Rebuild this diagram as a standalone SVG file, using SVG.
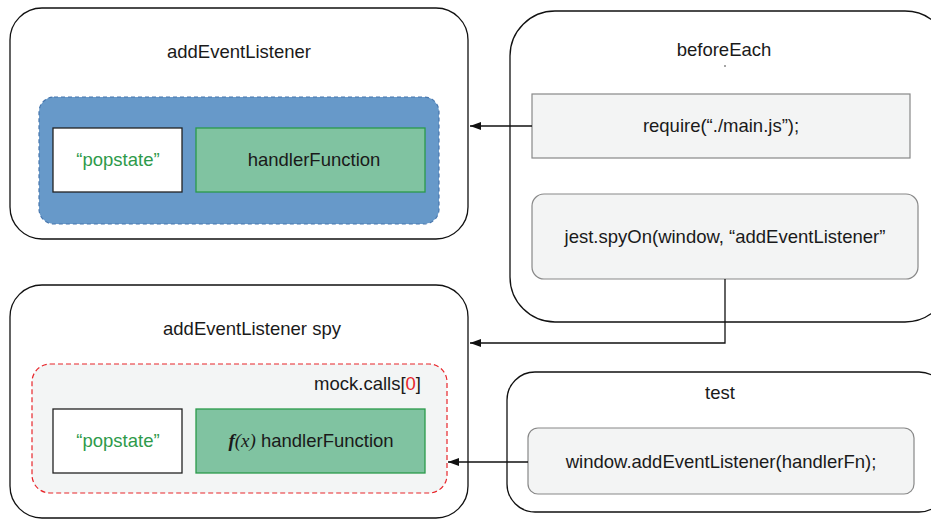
<svg xmlns="http://www.w3.org/2000/svg" width="931" height="520" viewBox="0 0 931 520">
<defs>
<style>
text{font-family:"Liberation Sans",Arial,sans-serif;font-size:18.5px;fill:#1a1a1a}
.c{text-anchor:middle}
.g{fill:#2e9a4a}
.outer{fill:#fff;stroke:#111;stroke-width:1.3}
.white{fill:#fff;stroke:#222;stroke-width:1.3}
.green{fill:#80c3a1;stroke:#2a9a4a;stroke-width:1.3}
.grey{fill:#f3f4f4;stroke:#888;stroke-width:1.2}
.conn{fill:none;stroke:#111;stroke-width:1.3}
</style>
<marker id="arr" markerWidth="12" markerHeight="10" refX="11" refY="4" orient="auto" markerUnits="userSpaceOnUse">
<path d="M0,0 L11,4 L0,8 Z" fill="#111"/>
</marker>
</defs>
<rect width="931" height="520" fill="#fff"/>

<g id="addEventListener">
<rect class="outer" x="10" y="8" width="458" height="231" rx="32"/>
<text class="c" x="239" y="58">addEventListener</text>
<rect x="39" y="97" width="400" height="127" rx="15" fill="#6799c9" stroke="#4776ad" stroke-width="1.2" stroke-dasharray="4,3"/>
<g id="popstate1">
<rect class="white" x="53" y="128" width="129" height="64"/>
<text class="c g" x="118" y="166">“popstate”</text>
</g>
<g id="handler1">
<rect class="green" x="196" y="128" width="229" height="64"/>
<text class="c" x="314" y="166">handlerFunction</text>
</g>
</g>

<g id="beforeEach">
<rect class="outer" x="510" y="11" width="440" height="311" rx="45"/>
<text class="c" x="724" y="56">beforeEach</text>
<circle cx="725" cy="66" r="0.8" fill="#333"/>
<g id="require">
<rect class="grey" x="532" y="94" width="378" height="64"/>
<text class="c" x="721" y="132">require(“./main.js”);</text>
</g>
<g id="spyOn">
<rect class="grey" x="532" y="194" width="386" height="85" rx="12"/>
<text class="c" x="725" y="243">jest.spyOn(window, “addEventListener”</text>
</g>
</g>

<g id="spy">
<rect class="outer" x="10" y="285" width="458" height="233" rx="32"/>
<text class="c" x="252" y="335">addEventListener spy</text>
<g id="mockcalls">
<rect x="32" y="364" width="415" height="129" rx="18" fill="#f3f5f5" stroke="#e8262b" stroke-width="1.2" stroke-dasharray="5,3"/>
<text x="421" y="390" text-anchor="end">mock.calls[<tspan fill="#e8262b">0</tspan>]</text>
<g id="popstate2">
<rect class="white" x="53" y="409" width="129" height="64"/>
<text class="c g" x="118" y="447">“popstate”</text>
</g>
<g id="handler2">
<rect class="green" x="196" y="409" width="229" height="64"/>
<text class="c" x="311" y="447"><tspan font-family="'Liberation Serif','Times New Roman',serif" font-style="italic" font-weight="bold" font-size="19">f</tspan><tspan font-family="'Liberation Serif','Times New Roman',serif" font-style="italic" font-size="19">(x)</tspan> handlerFunction</text>
</g>
</g>
</g>

<g id="test">
<rect class="outer" x="507" y="372" width="440" height="140" rx="28"/>
<text class="c" x="720" y="399">test</text>
<g id="testcall">
<rect class="grey" x="528" y="428" width="386" height="66" rx="10"/>
<text class="c" x="721" y="468">window.addEventListener(handlerFn);</text>
</g>
</g>

<g id="connectors">
<path class="conn" d="M532,126 H470" marker-end="url(#arr)"/>
<path class="conn" d="M725,279 V343 H470" marker-end="url(#arr)"/>
<path class="conn" d="M528,462 H448" marker-end="url(#arr)"/>
</g>
</svg>
